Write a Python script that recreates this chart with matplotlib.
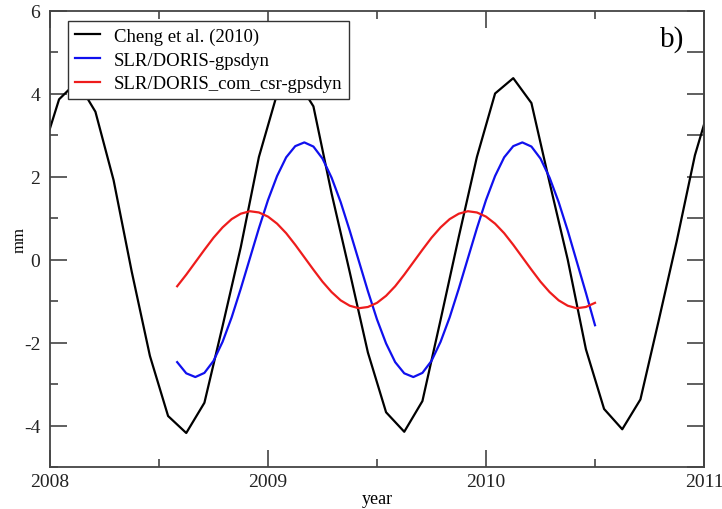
import matplotlib.pyplot as plt
import numpy as np

plt.rcParams['font.family'] = ['Liberation Serif', 'DejaVu Serif']
plt.rcParams['axes.unicode_minus'] = False

# Cheng et al. (2010), mid-month values from Dec 2007 to Jan 2011
cheng_t = 2008 + (np.arange(-1, 37) + 0.5) / 12
cheng_y = [2.47, 3.87, 4.30, 3.57, 1.92, -0.29, -2.32, -3.77, -4.18, -3.45,
           -1.60, 0.30, 2.48, 4.00, 4.40, 3.70, 1.60, -0.30, -2.24, -3.68,
           -4.15, -3.41, -1.45, 0.55, 2.48, 4.01, 4.38, 3.78, 1.86, 0.00,
           -2.16, -3.60, -4.09, -3.37, -1.48, 0.45, 2.52, 4.00]

# SLR/DORIS series, sampled twice a month from Aug 2008 to Jul 2010
sd_t = 2008 + 7 / 12 + np.arange(47) / 24
gpsdyn = [-2.47, -2.74, -2.83, -2.73, -2.44, -1.98, -1.39, -0.70, 0.03, 0.76,
          1.44, 2.02, 2.47, 2.74, 2.83, 2.73, 2.44, 1.98, 1.39, 0.70,
          -0.03, -0.76, -1.44, -2.02, -2.47, -2.74, -2.83, -2.73, -2.44, -1.98,
          -1.39, -0.70, 0.03, 0.76, 1.44, 2.02, 2.47, 2.74, 2.83, 2.73,
          2.44, 1.98, 1.39, 0.70, -0.05, -0.80, -1.58]
com_csr = [-0.64, -0.36, -0.06, 0.24, 0.53, 0.78, 0.98, 1.11, 1.17, 1.14,
           1.04, 0.87, 0.64, 0.36, 0.06, -0.24, -0.53, -0.78, -0.98, -1.11,
           -1.17, -1.14, -1.04, -0.87, -0.64, -0.36, -0.06, 0.24, 0.53, 0.78,
           0.98, 1.11, 1.17, 1.14, 1.04, 0.87, 0.64, 0.36, 0.06, -0.24,
           -0.53, -0.78, -0.98, -1.11, -1.17, -1.14, -1.04]

labels = ['Cheng et al. (2010)', 'SLR/DORIS-gpsdyn', 'SLR/DORIS_com_csr-gpsdyn']

fig = plt.figure(figsize=(7.22, 5.10), dpi=100)
ax = fig.add_axes([50 / 722, 42 / 510, 654 / 722, 456 / 510])

ax.plot(cheng_t, cheng_y, color='black', lw=1.6, label=labels[0])
ax.plot(sd_t, gpsdyn, color='#1010ee', lw=1.6, label=labels[1])
ax.plot(sd_t, com_csr, color='#ee1c1c', lw=1.6, label=labels[2])

ax.set_xlim(2008, 2011)
ax.set_ylim(-5, 6)
ax.set_xticks([2008, 2009, 2010, 2011])
ax.set_xticks([2008.5, 2009.5, 2010.5], minor=True)
ax.set_yticks([-4, -2, 0, 2, 4, 6])
ax.set_yticks([-5, -3, -1, 1, 3, 5], minor=True)

grey = '#444444'
for s in ax.spines.values():
    s.set_color(grey)
    s.set_linewidth(1.3)
ax.tick_params(which='both', direction='in', top=True, right=False,
               color=grey, width=1.2, labelsize=14, labelcolor='#222222')
ax.tick_params(axis='x', pad=4)
ax.tick_params(axis='y', pad=7)
ax.tick_params(which='major', length=12)
ax.tick_params(which='minor', length=6)

# right side carries equal-length ticks at every integer
sec = ax.secondary_yaxis('right')
sec.set_yticks(np.arange(-5, 7))
sec.tick_params(direction='in', length=12, width=1.2, color=grey, labelright=False)
sec.spines['right'].set_color(grey)
sec.spines['right'].set_linewidth(1.3)

ax.set_xlabel('year', fontsize=13, labelpad=0)
ax.set_ylabel('mm', fontsize=12, labelpad=-3)

ax.text(0.951, 0.940, 'b)', transform=ax.transAxes, fontsize=21,
        ha='center', va='center')

leg = ax.legend(loc='upper left', bbox_to_anchor=(0.0275, 0.978), fontsize=13.5,
                fancybox=False, framealpha=1, edgecolor='#333333',
                handlelength=1.35, handletextpad=0.75, borderpad=0.35,
                borderaxespad=0, labelspacing=0.35)
leg.get_frame().set_linewidth(1.0)

fig.savefig('out.png', dpi=100)
